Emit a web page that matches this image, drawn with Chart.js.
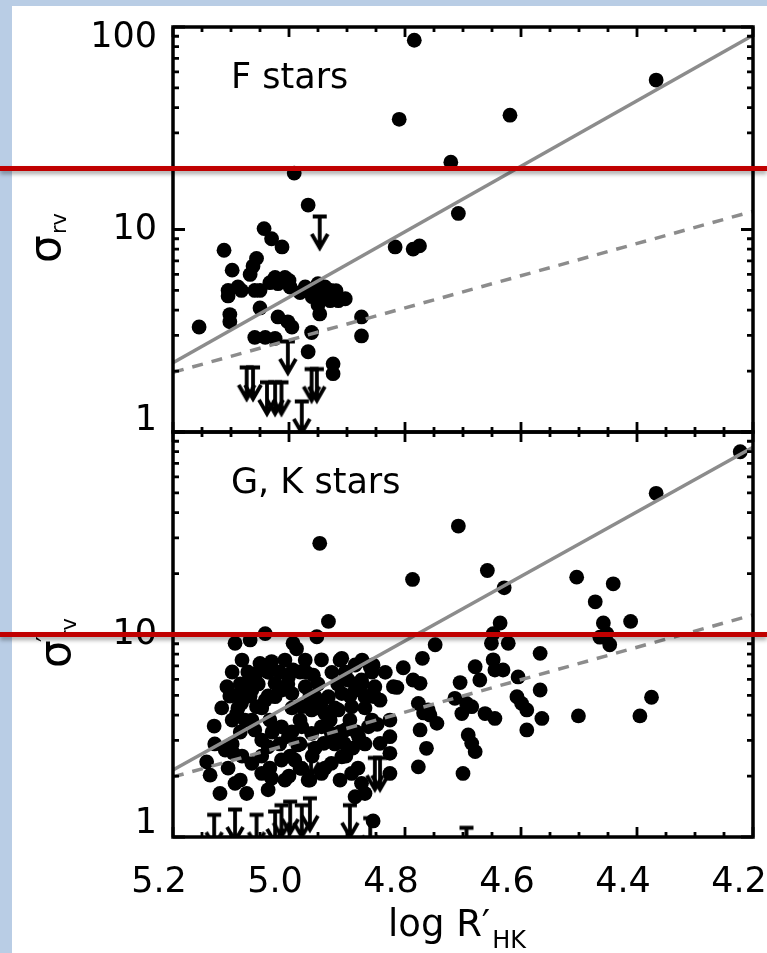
<!DOCTYPE html>
<html>
<head>
<meta charset="utf-8">
<script src="https://cdn.jsdelivr.net/npm/chart.js@4.4.1/dist/chart.umd.min.js"></script>
<style>
html,body{margin:0;padding:0;background:#b9cde5;}
#wrap{position:relative;width:767px;height:953px;}
canvas{display:block;}
</style>
</head>
<body>
<div id="wrap"><canvas id="c" width="767" height="953"></canvas></div>
<script>
// ---------- data ----------
const xTicks = [5.2, 5.0, 4.8, 4.6, 4.4, 4.2];
const xTickLabels = ['5.2', '5.0', '4.8', '4.6', '4.4', '4.2'];
const yTicksTop = [1, 10, 100];
const yTickLabelsTop = ['1', '10', '100'];
const yTicksBottom = [1, 10];
const yTickLabelsBottom = ['1', '10'];
const panelTitles = ['F stars', 'G, K stars'];
const xTitle = ['log R\u2032', 'HK'];
const thresholds = [20, 10]; // red marker lines: top panel, bottom panel

// F stars: [log R'HK, sigma_rv]
const fStarsPoints = [
  [4.784, 86], [4.810, 35], [4.619, 36.7], [4.367, 54.7], [4.721, 21.5], [4.708, 12.0],
  [4.817, 8.2], [4.786, 8.0], [4.775, 8.3], [4.991, 19.0], [4.967, 13.2], [5.043, 10.1],
  [5.030, 9.0], [5.012, 8.2], [5.112, 7.9], [5.056, 7.2], [5.067, 6.0], [5.098, 6.3],
  [5.024, 5.8], [5.007, 5.8], [5.019, 5.4], [4.998, 5.2], [5.105, 5.0], [5.082, 5.0],
  [5.059, 5.0], [5.050, 5.0], [5.105, 4.7], [5.050, 4.1], [5.102, 3.8], [5.102, 3.5],
  [5.155, 3.3], [5.059, 2.93], [5.041, 2.93], [5.024, 2.9], [5.019, 3.7], [5.002, 3.5],
  [4.995, 3.3], [4.972, 5.2], [4.955, 5.0], [4.938, 5.2], [4.932, 4.8], [4.915, 4.45],
  [4.944, 4.6], [4.947, 3.83], [4.961, 3.1], [4.967, 2.49], [4.924, 2.17], [4.924, 1.94],
  [4.875, 3.7], [4.875, 2.98], [4.962, 4.9], [4.928, 5.0], [4.950, 5.4], [5.062, 6.6],
  [5.000, 5.6], [5.088, 5.2], [5.033, 5.46], [5.002, 5.46], [4.981, 4.88], [4.960, 4.66],
  [4.929, 4.45], [4.950, 4.25], [4.919, 4.99], [4.903, 4.55]
];
// F stars upper limits
const fStarsLimits = [
  [4.947, 11.8], [5.073, 2.12], [5.062, 2.12], [5.038, 1.79], [5.024, 1.79], [5.013, 1.79],
  [4.978, 1.44], [4.961, 2.08], [4.952, 2.08], [5.002, 2.85]
];
// G, K stars
const gkStarsPoints = [
  [4.947, 28.2], [4.932, 11.6], [4.952, 9.75], [5.041, 10.1], [5.067, 9.4], [5.093, 9.05],
  [4.993, 9.05], [4.708, 34.3], [4.787, 18.7], [4.658, 20.7], [4.629, 17.0], [4.504, 19.2],
  [4.441, 17.8], [4.472, 14.5], [4.367, 49.8], [4.222, 79.9], [4.411, 11.6], [4.458, 11.4],
  [4.452, 10.1], [4.464, 9.7], [4.447, 8.9], [4.636, 11.4], [4.648, 10.1], [4.651, 9.05],
  [4.622, 9.05], [4.748, 8.9], [4.567, 8.07], [4.770, 7.63], [4.803, 6.85], [4.679, 6.93],
  [4.648, 7.5], [4.645, 6.68], [4.631, 6.68], [4.705, 5.79], [4.671, 5.96], [4.605, 6.17],
  [4.834, 6.5], [4.786, 5.96], [4.774, 5.74], [4.855, 7.07], [4.814, 5.48], [4.852, 5.52],
  [4.852, 4.93], [4.777, 4.57], [4.760, 4.24], [4.745, 3.64], [4.774, 3.38], [4.714, 4.84],
  [4.702, 4.07], [4.685, 4.4], [4.662, 4.07], [4.645, 3.85], [4.607, 4.93], [4.599, 4.57],
  [4.590, 4.24], [4.567, 5.32], [4.564, 3.85], [4.590, 3.38], [4.691, 3.19], [4.685, 2.9],
  [4.679, 2.64], [4.763, 2.74], [4.777, 2.22], [4.700, 2.06], [4.826, 3.13], [4.826, 2.59],
  [4.826, 2.06], [4.855, 1.2], [4.501, 3.96], [4.395, 3.96], [4.375, 4.9], [4.694, 4.57],
  [4.757, 4.0], [4.768, 4.1], [4.820, 5.52], [4.843, 4.74], [4.826, 3.78],
  [5.050, 7.2], [5.030, 7.35], [5.056, 6.43], [5.036, 6.5], [4.993, 6.68], [5.001, 6.17],
  [4.944, 7.5], [4.958, 6.3], [4.909, 7.63], [4.886, 7.07], [4.860, 6.93], [5.107, 5.52],
  [5.070, 5.85], [5.064, 5.32], [5.082, 4.57], [5.090, 4.07], [5.076, 3.78], [5.056, 4.4],
  [5.041, 4.74], [5.024, 4.93], [5.013, 5.32], [4.995, 5.11], [4.972, 5.52], [4.955, 4.93],
  [4.932, 4.93], [4.909, 5.11], [4.886, 5.32], [4.869, 4.93], [4.978, 4.4], [4.961, 4.24],
  [4.938, 4.07], [4.915, 4.24], [4.892, 4.4], [5.129, 3.53], [5.110, 2.69], [5.096, 2.59],
  [5.059, 3.38], [5.047, 3.01], [5.036, 2.79], [5.013, 3.5], [5.001, 3.13], [4.978, 3.5],
  [4.961, 3.25], [4.944, 3.5], [4.927, 3.25], [4.903, 3.38], [4.880, 3.13], [4.863, 3.5],
  [5.142, 2.35], [5.136, 2.02], [5.119, 1.64], [5.093, 1.84], [5.073, 1.64], [5.064, 2.31],
  [5.047, 2.06], [5.036, 1.71], [5.013, 2.4], [4.990, 2.4], [4.978, 2.18], [4.967, 1.91],
  [4.944, 2.06], [4.927, 2.31], [4.909, 2.49], [4.892, 2.06], [4.875, 1.84], [4.869, 1.64],
  [4.886, 1.58], [4.926, 6.5], [4.898, 5.96], [4.875, 5.96], [5.024, 5.74], [4.970, 6.5],
  [5.095, 5.0], [5.075, 5.1], [4.960, 4.7], [4.945, 4.5], [4.905, 2.9], [4.890, 2.75],
  [4.985, 2.85], [4.955, 2.75], [4.940, 2.9], [5.030, 1.95], [5.000, 2.0], [4.848, 3.6],
  [4.843, 2.9], [4.987, 8.5],
  [5.081, 7.48], [5.007, 7.48], [4.972, 7.48], [4.912, 7.48], [4.874, 7.48],
  [5.098, 6.53], [5.071, 6.53], [5.016, 6.53], [4.981, 6.53], [4.903, 6.53], [4.857, 6.53],
  [5.084, 5.70], [5.053, 5.70], [5.002, 5.70], [4.950, 5.70], [4.916, 5.70], [4.874, 5.70],
  [5.102, 4.97], [5.067, 4.97], [5.036, 4.97], [4.964, 4.97], [4.895, 4.97], [4.860, 4.97],
  [5.116, 4.34], [5.088, 4.34], [5.047, 4.34], [4.995, 4.34], [4.950, 4.34], [4.921, 4.34], [4.869, 4.34],
  [5.098, 3.78], [5.064, 3.78], [5.033, 3.78], [4.981, 3.78], [4.929, 3.78], [4.895, 3.78], [4.857, 3.78],
  [5.084, 3.30], [5.029, 3.30], [4.995, 3.30], [4.912, 3.30], [4.884, 3.30],
  [5.128, 2.88], [5.098, 2.88], [5.016, 2.88], [4.981, 2.88], [4.921, 2.88], [4.869, 2.88],
  [5.081, 2.51], [5.047, 2.51], [4.998, 2.51], [4.960, 2.51], [4.902, 2.51],
  [5.105, 2.19], [5.033, 2.19], [4.981, 2.19], [4.938, 2.19], [4.881, 2.19],
  [5.084, 1.91], [5.007, 1.91], [4.964, 1.91], [4.912, 1.91]
];
const gkStarsLimits = [
  [5.129, 1.31], [5.093, 1.39], [5.056, 1.31], [5.024, 1.36], [5.013, 1.46], [4.998, 1.52],
  [4.978, 1.46], [4.964, 1.58], [4.895, 1.46], [4.860, 1.26], [4.852, 2.5], [4.843, 2.5],
  [4.694, 1.13], [4.962, 2.9]
];
// fitted relations, evaluated at the x-axis ends
const fitX = [5.2, 4.2];
const fStarsSolidFit = [2.2, 91];
const fStarsDashedFit = [1.97, 12.3];
const gkStarsSolidFit = [2.14, 84];
const gkStarsDashedFit = [1.98, 12.5];

// ---------- helpers ----------
const toXY = arr => arr.map(([x, y]) => ({x, y}));
const fitLine = ys => fitX.map((x, i) => ({x, y: ys[i]}));
const FONT = 'DejaVu Sans';

function makeLimitGlyph() {
  const c = document.createElement('canvas');
  c.width = 24; c.height = 76;
  const g = c.getContext('2d');
  g.strokeStyle = '#000';
  g.lineWidth = 3.8;
  g.beginPath();
  g.moveTo(5, 39.5); g.lineTo(19, 39.5);
  g.moveTo(12, 38); g.lineTo(12, 68);
  g.moveTo(4, 57); g.lineTo(12, 71); g.lineTo(20, 57);
  g.stroke();
  return c;
}
const limitGlyph = makeLimitGlyph();

const pointDS = (data, yAxisID) => ({
  type: 'scatter', data: toXY(data), yAxisID, order: 2,
  pointRadius: 7.4, pointBackgroundColor: '#000', pointBorderWidth: 0, pointBorderColor: '#000'
});
const limitDS = (data, yAxisID) => ({
  type: 'scatter', data: toXY(data), yAxisID, order: 1,
  pointStyle: limitGlyph, pointRadius: 10
});
const lineDS = (ys, yAxisID, dashed) => ({
  type: 'line', data: fitLine(ys), yAxisID, order: 0,
  borderColor: '#8c8c8c', borderWidth: 3.5, pointRadius: 0, fill: false,
  borderDash: dashed ? [11, 9] : [], tension: 0
});

const yScale = (ticks, labels, lh) => ({
  type: 'logarithmic', min: 1, max: 100, position: 'left', stack: 'panels', stackWeight: 1,
  afterBuildTicks: s => { s.ticks = ticks.map(v => ({value: v})); },
  afterFit: s => { s.width = 173; s.paddingTop = 0; s.paddingBottom = 0; },
  grid: {display: false, drawTicks: false},
  border: {display: false},
  ticks: {
    autoSkip: false, padding: 16, color: '#000',
    font: {family: FONT, size: 35, lineHeight: lh + 'px'},
    callback: (v, i) => {
      const t = labels[i];
      if (i === 0) return [t, ''];
      if (ticks[i] === 100) return ['', t];
      return t;
    }
  }
});

// ---------- plugins ----------
const bgPlugin = {
  id: 'bg',
  beforeDraw(chart) {
    const ctx = chart.ctx;
    ctx.save();
    ctx.fillStyle = '#b9cde5';
    ctx.fillRect(0, 0, chart.width, chart.height);
    ctx.fillStyle = '#ffffff';
    ctx.fillRect(12, 6, chart.width - 12, chart.height - 6);
    ctx.restore();
  }
};

const framePlugin = {
  id: 'frame',
  afterDatasetsDraw(chart) {
    const ctx = chart.ctx, xs = chart.scales.x;
    const L = xs.left, R = xs.right;
    ctx.save();
    ctx.strokeStyle = '#000';
    ['yTop', 'yBot'].forEach((id, pi) => {
      const ys = chart.scales[id];
      const T = ys.top, B = ys.bottom;
      ctx.lineWidth = 2.8;
      ctx.beginPath();
      for (let d = 1; d < 100; d *= 10) {
        for (let m = 1; m <= 10; m++) {
          const p = ys.getPixelForValue(m * d);
          const len = (m === 1 || m === 10) ? 12 : 6;
          ctx.moveTo(L, p); ctx.lineTo(L + len, p);
          ctx.moveTo(R, p); ctx.lineTo(R - len, p);
        }
      }
      for (let k = 0; k <= 20; k++) {
        const p = xs.getPixelForValue(4.2 + k * 0.05);
        const len = (k % 4 === 0) ? 10 : 5;
        ctx.moveTo(p, T); ctx.lineTo(p, T + len);
        ctx.moveTo(p, B); ctx.lineTo(p, B - len);
      }
      ctx.stroke();
      ctx.lineWidth = 3.5;
      ctx.strokeRect(L, T, R - L, B - T);
      // panel title
      ctx.fillStyle = '#000';
      ctx.font = '35px "' + FONT + '"';
      ctx.textBaseline = 'alphabetic';
      ctx.textAlign = 'left';
      ctx.fillText(panelTitles[pi], L + 58, T + 61);
    });
    ctx.restore();
  },
  afterDraw(chart) {
    const ctx = chart.ctx;
    ctx.save();
    ctx.fillStyle = '#000';
    ctx.textBaseline = 'alphabetic';
    ctx.textAlign = 'left';
    // x axis title
    ctx.font = '37px "' + FONT + '"';
    ctx.fillText(xTitle[0], 388, 936);
    const w = ctx.measureText(xTitle[0]).width;
    ctx.font = '24px "' + FONT + '"';
    ctx.fillText(xTitle[1], 388 + w + 2, 948);
    // y axis titles (rotated)
    const drawYTitle = (bx, by, prime) => {
      ctx.save();
      ctx.translate(bx, by);
      ctx.rotate(-Math.PI / 2);
      ctx.font = '44px "' + FONT + '"';
      ctx.fillText('\u03c3', 0, 0);
      const sw = ctx.measureText('\u03c3').width;
      if (prime) {
        ctx.font = '26px "' + FONT + '"';
        ctx.fillText('\u2032', sw - 2, -14);
      }
      ctx.font = '21px "' + FONT + '"';
      ctx.fillText('rv', sw + 1, 6);
      ctx.restore();
    };
    drawYTitle(60, 263, false);
    drawYTitle(70, 668, true);
    // red marker lines
    ctx.shadowColor = 'rgba(0,0,0,0.35)';
    ctx.shadowBlur = 4;
    ctx.shadowOffsetY = 3;
    ctx.strokeStyle = '#c00000';
    ctx.lineWidth = 5;
    ['yTop', 'yBot'].forEach((id, i) => {
      const p = chart.scales[id].getPixelForValue(thresholds[i]);
      ctx.beginPath();
      ctx.moveTo(0, p); ctx.lineTo(chart.width, p);
      ctx.stroke();
    });
    ctx.restore();
  }
};

new Chart(document.getElementById('c'), {
  type: 'scatter',
  data: {
    datasets: [
      lineDS(fStarsSolidFit, 'yTop', false),
      lineDS(fStarsDashedFit, 'yTop', true),
      lineDS(gkStarsSolidFit, 'yBot', false),
      lineDS(gkStarsDashedFit, 'yBot', true),
      limitDS(fStarsLimits, 'yTop'),
      limitDS(gkStarsLimits, 'yBot'),
      pointDS(fStarsPoints, 'yTop'),
      pointDS(gkStarsPoints, 'yBot')
    ]
  },
  options: {
    responsive: false,
    animation: false,
    events: [],
    layout: {padding: {left: 0, right: 14, top: 27, bottom: 0}},
    plugins: {legend: {display: false}, tooltip: {enabled: false}},
    scales: {
      x: {
        type: 'linear', min: 4.2, max: 5.2, reverse: true, position: 'bottom',
        afterBuildTicks: s => { s.ticks = xTicks.map(v => ({value: v})); },
        afterFit: s => { s.height = 116; s.paddingLeft = 0; s.paddingRight = 0; },
        grid: {display: false, drawTicks: false},
        border: {display: false},
        ticks: {
          autoSkip: false, maxRotation: 0, padding: 25, labelOffset: -14, color: '#000',
          font: {family: FONT, size: 35},
          callback: (v, i) => xTickLabels[i]
        }
      },
      yBot: yScale(yTicksBottom, yTickLabelsBottom, 26),
      yTop: yScale(yTicksTop, yTickLabelsTop, 22)
    }
  },
  plugins: [bgPlugin, framePlugin]
});
</script>
</body>
</html>
